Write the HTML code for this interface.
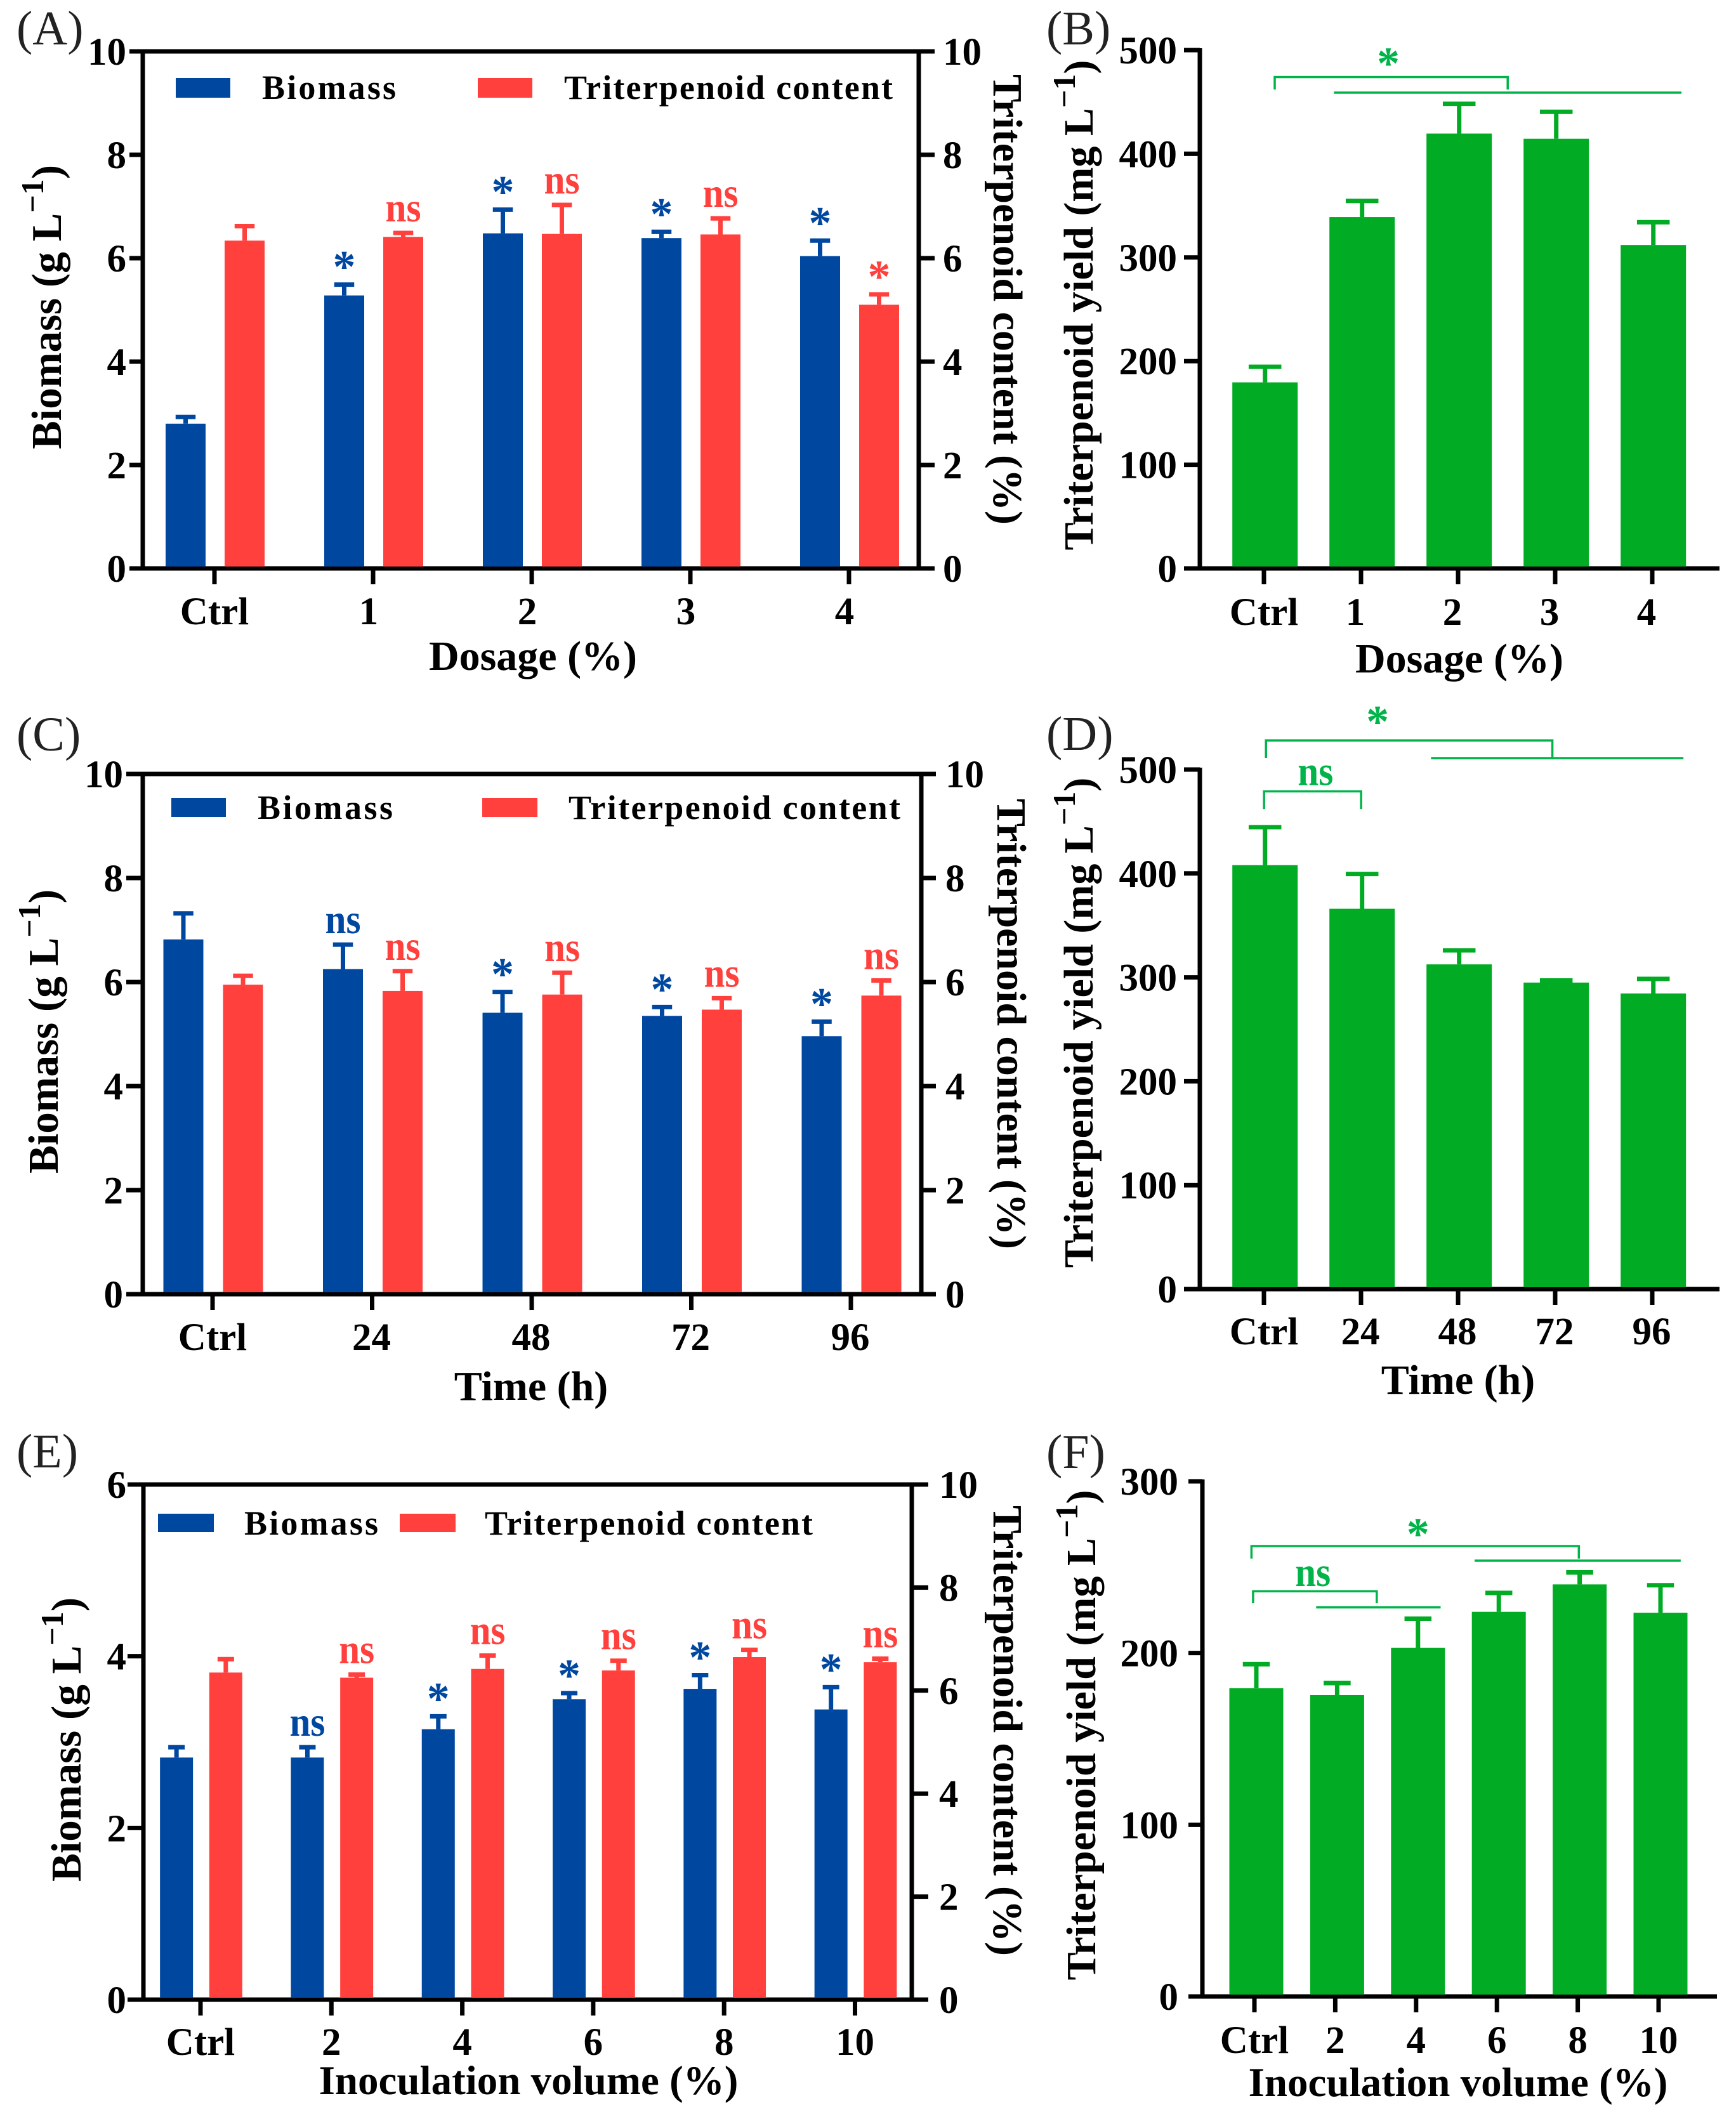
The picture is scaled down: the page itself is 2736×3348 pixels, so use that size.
<!DOCTYPE html>
<html lang="en">
<head>
<meta charset="utf-8">
<title>Biomass and triterpenoid charts</title>
<style>
html,body{margin:0;padding:0;background:#fff}
svg{display:block}
text{font-family:"Liberation Serif",serif;font-weight:bold;fill:#000}
.letter{font-weight:normal;font-size:76px;fill:#222}
.title{font-size:66px}
.sup{font-size:50px}
.legend{font-size:54px}
.spine{stroke:#000;stroke-width:7;fill:none}
</style>
</head>
<body>
<svg id="figure" xmlns="http://www.w3.org/2000/svg" width="2736" height="3348" viewBox="0 0 2736 3348">
<rect width="2736" height="3348" fill="#fff"/>

<g id="panel-a">
<text class="letter" x="26" y="70">(A)</text>
<path class="spine" d="M204 81H1473M225 81V896M1448 81V896M204 896H1473"/>
<rect x="277" y="123" width="86" height="31" fill="#0047a0"/>
<text class="legend" x="413" y="156" textLength="211" lengthAdjust="spacing">Biomass</text>
<rect x="753" y="123" width="86" height="31" fill="#ff403c"/>
<text class="legend" x="889" y="156" textLength="518" lengthAdjust="spacing">Triterpenoid content</text>
<text class="title" transform="translate(96 484) rotate(-90)" text-anchor="middle" style="font-size:67px">Biomass (g L<tspan class="sup" dy="-28">−1</tspan><tspan dy="28">)</tspan></text>
<text class="title" transform="translate(1566 472) rotate(90)" text-anchor="middle">Triterpenoid content (%)</text>
<text class="title" x="840" y="1056" text-anchor="middle">Dosage (%)</text>
</g>

<g id="panel-b">
<text class="letter" x="1649" y="70">(B)</text>
<path class="spine" d="M1891 76V896M1866 896H2710"/>
<text class="title" transform="translate(1722 481) rotate(-90)" text-anchor="middle">Triterpenoid yield (mg L<tspan class="sup" dy="-28">−1</tspan><tspan dy="28">)</tspan></text>
<text class="title" x="2300" y="1060" text-anchor="middle">Dosage (%)</text>
</g>

<g id="panel-c">
<text class="letter" x="26" y="1183">(C)</text>
<path class="spine" d="M199 1220H1475M225 1220V2040M1452 1220V2040M199 2040H1475"/>
<rect x="270" y="1258" width="86" height="30" fill="#0047a0"/>
<text class="legend" x="406" y="1291" textLength="213" lengthAdjust="spacing">Biomass</text>
<rect x="760" y="1258" width="87" height="30" fill="#ff403c"/>
<text class="legend" x="896" y="1291" textLength="523" lengthAdjust="spacing">Triterpenoid content</text>
<text class="title" transform="translate(91 1626) rotate(-90)" text-anchor="middle" style="font-size:67px">Biomass (g L<tspan class="sup" dy="-28">−1</tspan><tspan dy="28">)</tspan></text>
<text class="title" transform="translate(1572 1614) rotate(90)" text-anchor="middle">Triterpenoid content (%)</text>
<text class="title" x="837" y="2207" text-anchor="middle">Time (h)</text>
</g>

<g id="panel-d">
<text class="letter" x="1649" y="1182">(D)</text>
<path class="spine" d="M1891 1210V2032M1866 2032H2710"/>
<text class="title" transform="translate(1722 1612) rotate(-90)" text-anchor="middle">Triterpenoid yield (mg L<tspan class="sup" dy="-28">−1</tspan><tspan dy="28">)</tspan></text>
<text class="title" x="2298" y="2197" text-anchor="middle">Time (h)</text>
</g>

<g id="panel-e">
<text class="letter" x="26" y="2313">(E)</text>
<path class="spine" d="M201 2340H1463M226 2340V3152M1437 2340V3152M201 3152H1463"/>
<rect x="249" y="2386" width="88" height="29" fill="#0047a0"/>
<text class="legend" x="385" y="2419" textLength="211" lengthAdjust="spacing">Biomass</text>
<rect x="630" y="2386" width="88" height="29" fill="#ff403c"/>
<text class="legend" x="764" y="2419" textLength="517" lengthAdjust="spacing">Triterpenoid content</text>
<text class="title" transform="translate(127 2742) rotate(-90)" text-anchor="middle" style="font-size:67px">Biomass (g L<tspan class="sup" dy="-28">−1</tspan><tspan dy="28">)</tspan></text>
<text class="title" transform="translate(1566 2728) rotate(90)" text-anchor="middle">Triterpenoid content (%)</text>
<text class="title" x="833" y="3301" text-anchor="middle" style="font-size:65px">Inoculation volume (%)</text>
</g>

<g id="panel-f">
<text class="letter" x="1649" y="2314">(F)</text>
<path class="spine" d="M1895 2332V3147M1873 3147H2706"/>
<text class="title" transform="translate(1726 2735) rotate(-90)" text-anchor="middle">Triterpenoid yield (mg L<tspan class="sup" dy="-28">−1</tspan><tspan dy="28">)</tspan></text>
<text class="title" x="2298" y="3304" text-anchor="middle" style="font-size:65px">Inoculation volume (%)</text>
</g>
</svg>

<script>
// ---- Panel A data ----
const categoriesA = ['Ctrl', '1', '2', '3', '4'];
const biomassA = [2.80, 5.28, 6.48, 6.39, 6.04];
const biomassErrA = [0.13, 0.21, 0.46, 0.12, 0.30];
const contentA = [6.34, 6.41, 6.47, 6.46, 5.10];
const contentErrA = [0.28, 0.08, 0.56, 0.31, 0.20];
const biomassSigA = ['', '*', '*', '*', '*'];
const contentSigA = ['', 'ns', 'ns', 'ns', '*'];
const leftTicksA = [0, 2, 4, 6, 8, 10];
const rightTicksA = [0, 2, 4, 6, 8, 10];

// ---- Panel B data ----
const categoriesB = ['Ctrl', '1', '2', '3', '4'];
const yieldB = [179.5, 339, 419.5, 414.5, 312];
const yieldErrB = [15, 15.5, 28.7, 26, 22];
const yTicksB = [0, 100, 200, 300, 400, 500];

// ---- Panel C data ----
const categoriesC = ['Ctrl', '24', '48', '72', '96'];
const biomassC = [6.82, 6.25, 5.41, 5.35, 4.96];
const biomassErrC = [0.50, 0.47, 0.40, 0.17, 0.28];
const contentC = [5.95, 5.83, 5.76, 5.47, 5.74];
const contentErrC = [0.17, 0.38, 0.42, 0.22, 0.29];
const biomassSigC = ['', 'ns', '*', '*', '*'];
const contentSigC = ['', 'ns', 'ns', 'ns', 'ns'];
const leftTicksC = [0, 2, 4, 6, 8, 10];
const rightTicksC = [0, 2, 4, 6, 8, 10];

// ---- Panel D data ----
const categoriesD = ['Ctrl', '24', '48', '72', '96'];
const yieldD = [408, 366, 312.5, 295, 284.5];
const yieldErrD = [36.5, 33.5, 13.5, 2, 14];
const yTicksD = [0, 100, 200, 300, 400, 500];

// ---- Panel E data ----
const categoriesE = ['Ctrl', '2', '4', '6', '8', '10'];
const biomassE = [2.82, 2.82, 3.15, 3.50, 3.62, 3.38];
const biomassErrE = [0.12, 0.12, 0.15, 0.07, 0.16, 0.26];
const contentE = [6.35, 6.25, 6.42, 6.39, 6.65, 6.55];
const contentErrE = [0.26, 0.06, 0.26, 0.19, 0.14, 0.07];
const biomassSigE = ['', 'ns', '*', '*', '*', '*'];
const contentSigE = ['', 'ns', 'ns', 'ns', 'ns', 'ns'];
const leftTicksE = [0, 2, 4, 6];
const rightTicksE = [0, 2, 4, 6, 8, 10];

// ---- Panel F data ----
const categoriesF = ['Ctrl', '2', '4', '6', '8', '10'];
const yieldF = [179.5, 175.5, 203, 224, 240, 223.5];
const yieldErrF = [14, 7, 17, 11, 7, 16];
const yTicksF = [0, 100, 200, 300];

// ---- Significance annotations, in category index and axis value ----
const bracketsB = [[0.1, 2.5, 474, 462]];
const spansB = [[0.71, 4.29, 459]];
const sigTextB = [['*', 1.27, 472.5]];
const bracketsD = [[0.01, 2.96, 528, 511], [-0.01, 0.99, 479, 462]];
const spansD = [[1.71, 4.31, 511]];
const sigTextD = [['*', 1.16, 531.5], ['ns', 0.52, 485]];
const bracketsF = [[-0.06, 3.99, 262.3, 255], [-0.04, 1.49, 236, 229]];
const spansF = [[2.70, 5.25, 253.8], [0.74, 2.28, 226.6]];
const sigTextF = [['*', 2.0, 260.5], ['ns', 0.70, 239]];

const SVG_NS = 'http://www.w3.org/2000/svg';
const BLUE = '#0047a0';
const RED = '#ff403c';
const GREEN = '#02ab24';
const LINE_GREEN = '#00b44a';

function make(tag, attrs, parent) {
  const node = document.createElementNS(SVG_NS, tag);
  for (const key in attrs) node.setAttribute(key, attrs[key]);
  parent.appendChild(node);
  return node;
}

function drawBar(parent, cx, width, yTop, yBottom, yErr, color, capWidth) {
  const bar = make('rect', {x: cx - width / 2, y: yTop, width: width, height: yBottom - yTop, fill: color}, parent);
  
  
  const stem = make('line', {x1: cx, x2: cx, y1: yTop, y2: yErr, stroke: color, 'stroke-width': 7}, parent);
  
  
  const cap = make('line', {x1: cx - capWidth / 2, x2: cx + capWidth / 2, y1: yErr, y2: yErr, stroke: color, 'stroke-width': 7}, parent);
  
  
}

function drawMark(parent, label, x, y, color) {
  const isStar = label === '*';
  const attrs = {x: x, y: y, 'text-anchor': 'middle', 'font-size': isStar ? 72 : 66, style: 'fill:' + color};
  if (!isStar) {
    attrs.textLength = 56;
    attrs.lengthAdjust = 'spacingAndGlyphs';
  }
  const mark = make('text', attrs, parent);
  mark.textContent = label;
  
  
}

function drawSig(parent, label, cx, yErr, color) {
  if (!label) return;
  drawMark(parent, label, cx, label === '*' ? yErr - 4 : yErr - 18, color);
}

function drawYTick(parent, x1, x2, y) {
  const tick = make('line', {x1: x1, x2: x2, y1: y, y2: y, stroke: '#000', 'stroke-width': 7}, parent);
  
  
}

function drawTickLabel(parent, text, x, y, anchor, size) {
  const label = make('text', {x: x, y: y, 'text-anchor': anchor, 'font-size': size}, parent);
  label.textContent = text;
  
  
}

function drawXTicks(parent, categories, xTick, bottom, baseline, shift) {
  categories.forEach(function (cat, i) {
    const tick = make('line', {x1: xTick(i), x2: xTick(i), y1: bottom, y2: bottom + 25, stroke: '#000', 'stroke-width': 7}, parent);
    
    
    drawTickLabel(parent, cat, xTick(i) + (i === 0 ? 0 : shift), baseline, 'middle', 61);
  });
}

function drawDualPanel(id, c, categories, biomass, biomassErr, content, contentErr, biomassSig, contentSig, leftTicks, rightTicks) {
  const parent = document.getElementById(id);
  const yLeft = function (v) { return c.bottom - v / leftTicks[leftTicks.length - 1] * (c.bottom - c.top); };
  const yRight = function (v) { return c.bottom - v / rightTicks[rightTicks.length - 1] * (c.bottom - c.top); };
  const xGroup = function (i) { return c.x0 + i * c.step; };
  const xTick = function (i) { return c.tick0 + i * c.step; };

  categories.forEach(function (cat, i) {
    const bx = xGroup(i) - (c.gap + c.barW) / 2;
    const rx = xGroup(i) + (c.gap + c.barW) / 2;
    const by = yLeft(biomass[i] + biomassErr[i]);
    const ry = yRight(content[i] + contentErr[i]);
    drawBar(parent, bx, c.barW, yLeft(biomass[i]), c.bottom - 3, by, BLUE, c.barW / 2);
    drawBar(parent, rx, c.barW, yRight(content[i]), c.bottom - 3, ry, RED, c.barW / 2);
    drawSig(parent, biomassSig[i], bx, by, BLUE);
    drawSig(parent, contentSig[i], rx, ry, RED);
  });
  leftTicks.forEach(function (v) {
    drawYTick(parent, c.leftEnd, c.left, yLeft(v));
    drawTickLabel(parent, String(v), c.leftLabel, yLeft(v) + 21, 'end', 61);
  });
  rightTicks.forEach(function (v) {
    drawYTick(parent, c.right, c.rightEnd, yRight(v));
    drawTickLabel(parent, String(v), c.rightLabel, yRight(v) + 21, 'start', 61);
  });
  drawXTicks(parent, categories, xTick, c.bottom, c.tickBase, c.shift);
}

function drawYieldPanel(id, c, categories, values, errors, yTicks, brackets, spans, sigText) {
  const parent = document.getElementById(id);
  const yAxis = function (v) { return c.bottom - v / yTicks[yTicks.length - 1] * (c.bottom - c.top); };
  const xBar = function (i) { return c.x0 + i * c.step; };
  const xTick = function (i) { return c.tick0 + i * c.step; };

  categories.forEach(function (cat, i) {
    drawBar(parent, xBar(i), c.barW, yAxis(values[i]), c.bottom - 3, yAxis(values[i] + errors[i]), GREEN, c.barW / 2);
  });
  yTicks.forEach(function (v) {
    drawYTick(parent, c.leftEnd, c.left, yAxis(v));
    drawTickLabel(parent, String(v), c.leftLabel, yAxis(v) + 21, 'end', 61);
  });
  drawXTicks(parent, categories, xTick, c.bottom, c.tickBase, c.shift);

  brackets.forEach(function (b) {
    const d = 'M' + xBar(b[0]) + ' ' + yAxis(b[3]) + 'V' + yAxis(b[2]) + 'H' + xBar(b[1]) + 'V' + yAxis(b[3]);
    const path = make('path', {d: d, fill: 'none', stroke: LINE_GREEN, 'stroke-width': 3.5}, parent);
    
    
  });
  spans.forEach(function (s) {
    const line = make('line', {x1: xBar(s[0]), x2: xBar(s[1]), y1: yAxis(s[2]), y2: yAxis(s[2]), stroke: LINE_GREEN, 'stroke-width': 3.5}, parent);
    
    
  });
  sigText.forEach(function (t) {
    drawMark(parent, t[0], xBar(t[1]), yAxis(t[2]), LINE_GREEN);
  });
}

drawDualPanel('panel-a',
  {left: 225, right: 1448, top: 81, bottom: 896, leftEnd: 204, rightEnd: 1473, leftLabel: 199, rightLabel: 1486, x0: 339, tick0: 338, step: 250, barW: 63, gap: 30, tickBase: 984, shift: -7},
  categoriesA, biomassA, biomassErrA, contentA, contentErrA, biomassSigA, contentSigA, leftTicksA, rightTicksA);

drawYieldPanel('panel-b',
  {left: 1891, top: 79, bottom: 896, leftEnd: 1866, leftLabel: 1855, x0: 1993.7, tick0: 1992, step: 153, barW: 103, tickBase: 985, shift: -9},
  categoriesB, yieldB, yieldErrB, yTicksB, bracketsB, spansB, sigTextB);

drawDualPanel('panel-c',
  {left: 225, right: 1452, top: 1220, bottom: 2040, leftEnd: 199, rightEnd: 1475, leftLabel: 194, rightLabel: 1490, x0: 336, tick0: 335, step: 251.5, barW: 63, gap: 31, tickBase: 2128, shift: -1},
  categoriesC, biomassC, biomassErrC, contentC, contentErrC, biomassSigC, contentSigC, leftTicksC, rightTicksC);

drawYieldPanel('panel-d',
  {left: 1891, top: 1213, bottom: 2032, leftEnd: 1866, leftLabel: 1855, x0: 1993.7, tick0: 1992, step: 153, barW: 103, tickBase: 2119, shift: -1},
  categoriesD, yieldD, yieldErrD, yTicksD, bracketsD, spansD, sigTextD);

drawDualPanel('panel-e',
  {left: 226, right: 1437, top: 2340, bottom: 3152, leftEnd: 201, rightEnd: 1463, leftLabel: 199, rightLabel: 1480, x0: 317, tick0: 316, step: 206.3, barW: 52, gap: 25.7, tickBase: 3239, shift: 0},
  categoriesE, biomassE, biomassErrE, contentE, contentErrE, biomassSigE, contentSigE, leftTicksE, rightTicksE);

drawYieldPanel('panel-f',
  {left: 1895, top: 2335, bottom: 3147, leftEnd: 1873, leftLabel: 1857, x0: 1980, tick0: 1977, step: 127.4, barW: 85, tickBase: 3236, shift: 0},
  categoriesF, yieldF, yieldErrF, yTicksF, bracketsF, spansF, sigTextF);
</script>
</body>
</html>
